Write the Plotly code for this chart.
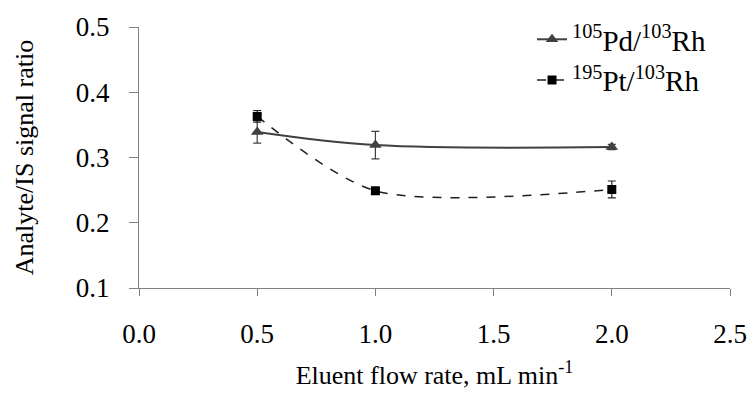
import plotly.graph_objects as go

flow = [0.5, 1.0, 2.0]
pd_ratio = [0.339, 0.319, 0.316]
pd_err = [0.017, 0.021, 0.004]
pt_ratio = [0.363, 0.249, 0.251]
pt_err = [0.009, 0.003, 0.013]

x_ticks = [0.0, 0.5, 1.0, 1.5, 2.0, 2.5]
y_ticks = [0.1, 0.2, 0.3, 0.4, 0.5]

FONT = "Times New Roman, Liberation Serif, serif"

fig = go.Figure()
fig.add_trace(go.Scatter(
    x=flow, y=pd_ratio, mode="lines+markers",
    name="<sup>105</sup>Pd/<sup>103</sup>Rh",
    line=dict(color="#404040", width=2, shape="spline", smoothing=1.0),
    marker=dict(symbol="triangle-up", size=11, color="#404040"),
    error_y=dict(type="data", array=pd_err, color="#404040", thickness=1.2, width=4),
))
fig.add_trace(go.Scatter(
    x=flow, y=pt_ratio, mode="lines+markers",
    name="<sup>195</sup>Pt/<sup>103</sup>Rh",
    line=dict(color="#202020", width=1.5, dash="dash", shape="spline", smoothing=0.8),
    marker=dict(symbol="square", size=9, color="#000000"),
    error_y=dict(type="data", array=pt_err, color="#202020", thickness=1.2, width=4),
))

fig.update_layout(
    width=748, height=399,
    margin=dict(l=139, r=18, t=25, b=111),
    paper_bgcolor="white", plot_bgcolor="white",
    font=dict(family=FONT, size=27, color="#000000"),
    showlegend=True,
    legend=dict(x=0.665, y=1.05, xanchor="left", yanchor="top",
                bgcolor="rgba(0,0,0,0)", font=dict(size=29, family=FONT),
                tracegroupgap=0, itemwidth=30),
)
fig.update_xaxes(
    range=[0, 2.5], tickvals=x_ticks, ticktext=[f"{v:.1f}" for v in x_ticks],
    showline=True, linecolor="#808080", linewidth=1.2,
    ticks="outside", ticklen=7, tickcolor="#808080",
    ticklabelstandoff=14, automargin=False,
    showgrid=False, zeroline=False,
    title=dict(text="Eluent flow rate, mL min<sup>-1</sup>", standoff=18,
               font=dict(size=26, family=FONT)),
    tickfont=dict(size=27, family=FONT),
)
fig.update_yaxes(
    range=[0.1, 0.5], tickvals=y_ticks, ticktext=[f"{v:.1f}" for v in y_ticks],
    showline=True, linecolor="#808080", linewidth=1.2,
    ticks="outside", ticklen=9, tickcolor="#808080",
    ticklabelstandoff=14,
    showgrid=False, zeroline=False,
    title=dict(text="Analyte/IS signal ratio", standoff=34,
               font=dict(size=26, family=FONT)),
    tickfont=dict(size=27, family=FONT),
)

fig.write_html("out.html")
